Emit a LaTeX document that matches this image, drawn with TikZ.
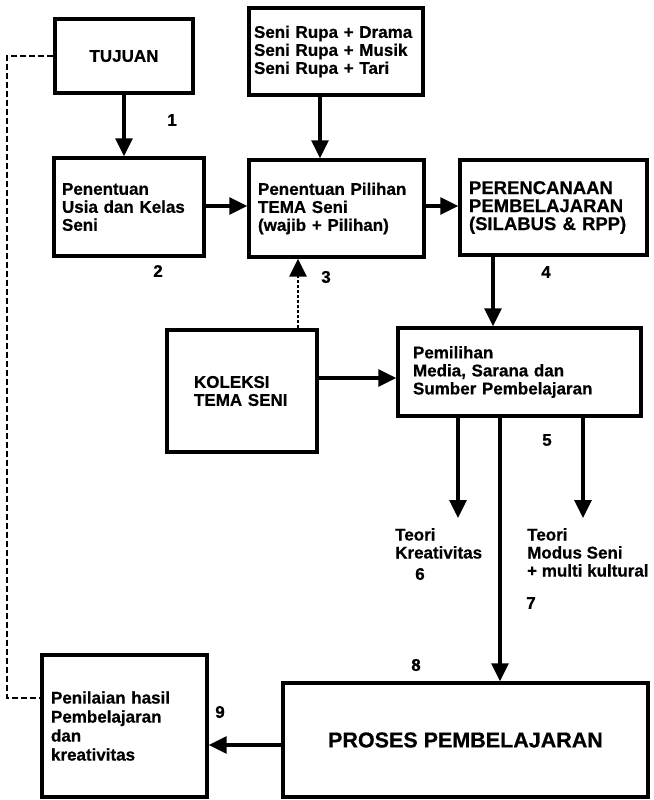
\documentclass[tikz,border=0pt]{standalone}
\usepackage{fontspec}
\setmainfont{Liberation Sans}[BoldFeatures={FakeBold=0.6}]
\usetikzlibrary{arrows.meta}
\begin{document}
\begin{tikzpicture}[x=1pt,y=-1pt,
  txt/.style={font=\fontsize{17}{18}\selectfont\bfseries},
  boxn/.style={draw,line width=3.4pt,txt,align=left,inner ysep=0pt},
  arr/.style={line width=3.2pt,-{Triangle[length=18pt,width=17pt]}},
  dsh/.style={line width=2.8pt,dash pattern=on 6pt off 3pt},
  lbl/.style={txt,inner sep=0pt}]
\useasboundingbox (0,0) rectangle (653,800);
% boxes
\node[boxn,align=center,minimum width=138pt,minimum height=74pt,inner xsep=0pt] (tuj) at (124,56) {TUJUAN};
\node[boxn,text width=164pt,inner xsep=5pt,minimum height=87pt] (seni) at (336,51.5) {Seni Rupa + Drama\\Seni Rupa + Musik\\Seni Rupa + Tari};
\node[boxn,text width=134pt,inner xsep=8pt,minimum height=98pt] (usia) at (129,207) {Penentuan\\Usia dan Kelas\\Seni};
\node[boxn,text width=157pt,inner xsep=9pt,minimum height=97pt] (pil) at (336.5,208.5) {Penentuan Pilihan\\TEMA Seni\\(wajib + Pilihan)};
\node[boxn,text width=169pt,inner xsep=9pt,minimum height=95pt,font=\fontsize{18.5}{18}\selectfont\bfseries] (ren) at (553.5,207.5) {PERENCANAAN\\PEMBELAJARAN\\(SILABUS \& RPP)};
\node[boxn,text width=96pt,inner xsep=27pt,minimum height=122pt] (kol) at (242,391) {KOLEKSI\\TEMA SENI\\[5pt]};
\node[boxn,text width=213pt,inner xsep=15pt,minimum height=88pt] (pem) at (519.5,372) {Pemilihan\\Media, Sarana dan\\Sumber Pembelajaran};
\node[boxn,text width=147pt,inner xsep=9pt,minimum height=142pt,font=\fontsize{17}{19}\selectfont\bfseries] (nil) at (124.5,726) {Penilaian hasil\\Pembelajaran\\dan\\kreativitas};
\node[boxn,align=center,minimum width=365pt,minimum height=114pt,inner xsep=0pt,font=\fontsize{21.5}{22}\selectfont\bfseries] (pro) at (465.5,740) {PROSES PEMBELAJARAN};
% free texts
\node[lbl,align=left,anchor=north west] (tk) at (395,528) {Teori\\Kreativitas};
\node[lbl,align=left,anchor=north west] (tm) at (527,528) {Teori\\Modus Seni\\+ multi kultural};
% number labels
\node[lbl] (n1) at (172,120) {1};
\node[lbl] (n2) at (158,271) {2};
\node[lbl] (n3) at (326,277) {3};
\node[lbl] (n4) at (546,272) {4};
\node[lbl] (n5) at (547,440) {5};
\node[lbl] (n6) at (420,574) {6};
\node[lbl] (n7) at (531,603) {7};
\node[lbl] (n8) at (416,665) {8};
\node[lbl] (n9) at (220,712) {9};
% connectors
\draw[arr] (tuj.south) -- (usia.north -| tuj.south);
\draw[arr] (seni.south -| 320,0) -- (pil.north -| 320,0);
\draw[arr] (usia.east |- 0,206) -- (pil.west |- 0,206);
\draw[arr] (pil.east |- 0,206) -- (ren.west |- 0,206);
\draw[arr] (ren.south -| 493,0) -- (pem.north -| 493,0);
\draw[arr] (kol.east |- 0,378) -- (pem.west |- 0,378);
\draw[line width=2.8pt,dash pattern=on 3pt off 2pt,-{Triangle[length=18pt,width=17pt]}] (kol.north -| 298,0) -- (pil.south -| 298,0);
\coordinate (ak) at (458,518);
\coordinate (am) at (583,518);
\draw[arr] (pem.south -| ak) -- (ak);
\draw[arr] (pem.south -| am) -- (am);
\draw[arr] (pem.south -| 500,0) -- (pro.north -| 500,0);
\draw[arr] (pro.west |- 0,745) -- (nil.east |- 0,745);
\coordinate (d1) at (7,56);
\coordinate (d2) at (7,698);
\draw[dsh] (tuj.west |- d1) -- (d1) -- (d2) -- (nil.west |- d2);
\end{tikzpicture}
\end{document}
